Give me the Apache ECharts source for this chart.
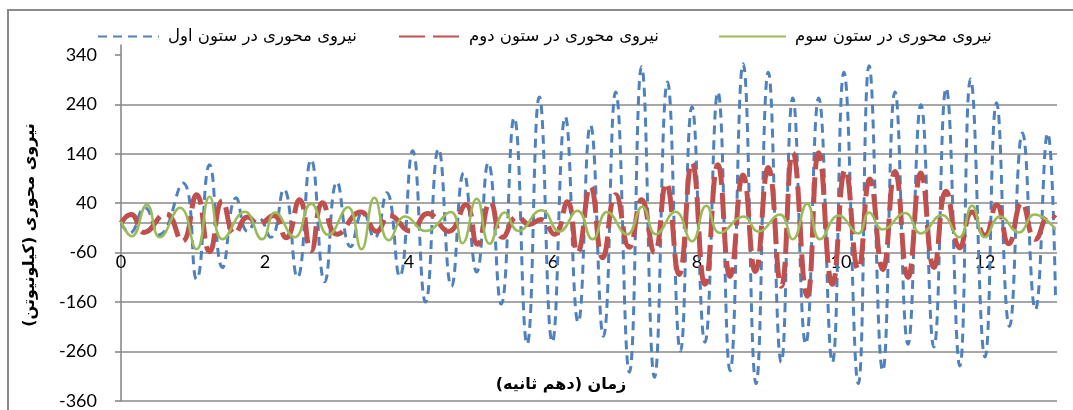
<!DOCTYPE html>
<html>
<head>
<meta charset="utf-8">
<script src="https://cdn.jsdelivr.net/npm/echarts@6/dist/echarts.min.js"></script>
<style>
  html, body { margin: 0; padding: 0; background: #ffffff; }
  #chart { width: 1073px; height: 410px; }
</style>
</head>
<body>
<div id="chart"></div>
<script>
// Series names (legend text)
const seriesNames = [
  'نیروی محوری در ستون اول',
  'نیروی محوری در ستون دوم',
  'نیروی محوری در ستون سوم'
];

// Axis titles (RLM keeps the closing parenthesis inside the right-to-left run)
const xTitle = 'زمان (دهم ثانیه)\u200F';
const yTitle = 'نیروی محوری (کیلونیوتن)\u200F';

// Tick labels
const xTickLabels = [0, 2, 4, 6, 8, 10, 12];
const yTickLabels = [-360, -260, -160, -60, 40, 140, 240, 340];

// Column 1 axial force: turning points (time in tenths of a second, force in kN)
const col1Times = [
  0, 0.12, 0.33, 0.53, 0.86, 1.05, 1.23, 1.41, 1.60, 1.76, 1.91, 2.08, 2.26, 2.45, 2.64, 2.83,
  3.00, 3.19, 3.36, 3.52, 3.69, 3.87, 4.05, 4.23, 4.41, 4.59, 4.76, 4.94, 5.10, 5.28, 5.46, 5.64,
  5.81, 5.99, 6.17, 6.35, 6.52, 6.70, 6.87, 7.06, 7.23, 7.41, 7.59, 7.77, 7.93, 8.11, 8.29, 8.46,
  8.64, 8.82, 8.99, 9.17, 9.33, 9.51, 9.69, 9.88, 10.04, 10.24, 10.39, 10.58, 10.75, 10.93, 11.11,
  11.29, 11.46, 11.65, 11.80, 12.00, 12.16, 12.34, 12.52, 12.70, 12.87, 12.98
];
const col1Values = [
  0, -20, 31, -24, 81, -114, 118, -90, 51, -17, 10, -29, 68, -110, 128, -119,
  83, -48, 23, -30, 61, -108, 146, -160, 150, -128, 101, -99, 122, -164, 213, -245,
  255, -241, 215, -201, 198, -229, 265, -302, 316, -312, 285, -259, 235, -241, 265, -299,
  322, -325, 305, -282, 253, -245, 253, -282, 305, -325, 318, -299, 265, -245, 239,
  -251, 273, -289, 291, -271, 243, -209, 182, -175, 182, -155
];

// Column 2 axial force
const col2Times = [
  0, 0.14, 0.32, 0.62, 0.85, 1.05, 1.23, 1.41, 1.58, 1.76, 1.91, 2.12, 2.29, 2.48, 2.64, 2.80,
  3.00, 3.33, 3.55, 3.73, 4.02, 4.26, 4.55, 4.79, 4.95, 5.13, 5.30, 5.51, 5.67, 5.83, 6.02, 6.20,
  6.34, 6.52, 6.69, 6.87, 7.06, 7.23, 7.41, 7.57, 7.75, 7.93, 8.11, 8.29, 8.46, 8.64, 8.81, 8.99,
  9.17, 9.33, 9.53, 9.69, 9.88, 10.06, 10.24, 10.40, 10.58, 10.75, 10.93, 11.11, 11.29, 11.46,
  11.65, 11.82, 12.00, 12.16, 12.33, 12.51, 12.70, 12.90, 12.98
];
const col2Values = [
  0, 17, -19, 19, -37, 57, -58, 45, -22, 12, -2, 15, -30, 47, -56, 41,
  -23, 22, -17, 15, -16, 19, -17, 37, -43, 42, -29, 13, -3, 7, -23, 43,
  -60, 74, -70, 57, -49, 47, -60, 81, -104, 122, -124, 118, -108, 97, -98, 112,
  -128, 142, -148, 142, -124, 108, -94, 89, -94, 104, -110, 101, -90, 64,
  -50, 22, -25, 37, -42, 41, -33, 17, 10
];

// Column 3 axial force
const col3Times = [
  0, 0.15, 0.36, 0.54, 0.82, 1.05, 1.23, 1.41, 1.72, 1.96, 2.14, 2.41, 2.64, 2.88, 3.15, 3.34,
  3.52, 3.72, 3.95, 4.23, 4.58, 4.74, 4.94, 5.12, 5.33, 5.52, 5.84, 6.09, 6.34, 6.55, 6.75, 7.03,
  7.24, 7.43, 7.70, 7.93, 8.13, 8.32, 8.65, 8.85, 9.15, 9.33, 9.53, 9.71, 9.97, 10.24, 10.39,
  10.58, 10.89, 11.11, 11.40, 11.64, 11.82, 12.00, 12.21, 12.47, 12.69, 12.98
];
const col3Values = [
  3, -27, 37, -29, 31, -53, 53, -33, 23, -33, 21, -29, 39, -24, 32, -53,
  51, -35, 13, -16, 22, -41, 49, -42, 21, -16, 26, -17, 25, -33, 22, -23,
  33, -23, 23, -37, 35, -20, 13, -17, 17, -33, 39, -33, 15, -21, 21,
  -13, 20, -21, 16, -29, 35, -29, 13, -19, 17, -13
];

const seriesColors = ['#4F81BD', '#C0504D', '#9BBB59'];
const gridColor = '#8a8a8a';
const numFont = 'Lato';
const arFont = '"DejaVu Sans"';

function pairs(times, values) {
  return times.map((t, i) => [t, values[i]]);
}

const chart = echarts.init(document.getElementById('chart'), null, { renderer: 'canvas' });

// Legend entries show only the line sample, no point marker
const legendBase = {
  orient: 'horizontal',
  top: 28,
  padding: 0,
  itemHeight: 14,
  selectedMode: false,
  itemStyle: { opacity: 0 },
  textStyle: { fontFamily: arFont, fontSize: 16.5, color: '#000', padding: [0, 0, 0, 4] }
};

chart.setOption({
  animation: false,
  backgroundColor: '#ffffff',
  grid: { left: 121, right: 16, top: 45, bottom: 8 },
  legend: [
    Object.assign({}, legendBase, { data: [seriesNames[0]], left: 97, itemWidth: 61 }),
    Object.assign({}, legendBase, { data: [seriesNames[1]], left: 398, itemWidth: 61 }),
    Object.assign({}, legendBase, { data: [seriesNames[2]], left: 718, itemWidth: 67 })
  ],
  xAxis: [
    {
      type: 'value', min: 0, max: 13, interval: 2,
      axisLine: { show: true, onZero: true, lineStyle: { color: gridColor, width: 1.6 } },
      axisTick: { show: false },
      axisLabel: { show: false },
      splitLine: { show: false }
    },
    {
      type: 'value', min: 0, max: 13, interval: 2,
      position: 'bottom', offset: -149,
      axisLine: { show: false, onZero: false },
      axisTick: { show: false },
      splitLine: { show: false },
      axisLabel: {
        customValues: xTickLabels,
        margin: 1, fontFamily: numFont, fontSize: 18, color: '#000'
      }
    }
  ],
  yAxis: {
    type: 'value', min: -360, max: 360, interval: 100,
    axisLine: { show: true, onZero: false, lineStyle: { color: gridColor, width: 1.6 } },
    axisTick: {
      show: true, inside: false, length: 6, customValues: yTickLabels,
      lineStyle: { color: gridColor, width: 1.6 }
    },
    axisLabel: {
      customValues: yTickLabels,
      margin: 24, fontFamily: numFont, fontSize: 18, color: '#000'
    },
    splitLine: { show: true, showMaxLine: false, lineStyle: { color: gridColor, width: 1.6 } }
  },
  series: [
    {
      name: seriesNames[0], type: 'line', data: pairs(col1Times, col1Values),
      smooth: 0.5, symbol: 'none', z: 2,
      lineStyle: { color: seriesColors[0], width: 3, type: [9, 6] },
      itemStyle: { color: seriesColors[0] }
    },
    {
      name: seriesNames[1], type: 'line', data: pairs(col2Times, col2Values),
      smooth: 0.5, symbol: 'none', z: 3,
      lineStyle: { color: seriesColors[1], width: 5, type: [26, 8] },
      itemStyle: { color: seriesColors[1] }
    },
    {
      name: seriesNames[2], type: 'line', data: pairs(col3Times, col3Values),
      smooth: 0.5, symbol: 'none', z: 4,
      lineStyle: { color: seriesColors[2], width: 2.5, type: 'solid' },
      itemStyle: { color: seriesColors[2] }
    }
  ],
  graphic: [
    {
      type: 'rect', silent: true, z: -10,
      shape: { x: 8, y: 10, width: 1090, height: 430 },
      style: { fill: 'none', stroke: gridColor, lineWidth: 2 }
    },
    {
      type: 'text', silent: true, x: 30, y: 225, rotation: Math.PI / 2,
      style: {
        text: yTitle, fill: '#000', align: 'center', verticalAlign: 'middle',
        font: 'bold 16px ' + arFont
      }
    },
    {
      type: 'text', silent: true, x: 561, y: 385,
      style: {
        text: xTitle, fill: '#000', align: 'center', verticalAlign: 'middle',
        font: 'bold 16px ' + arFont
      }
    }
  ]
});
</script>
</body>
</html>
